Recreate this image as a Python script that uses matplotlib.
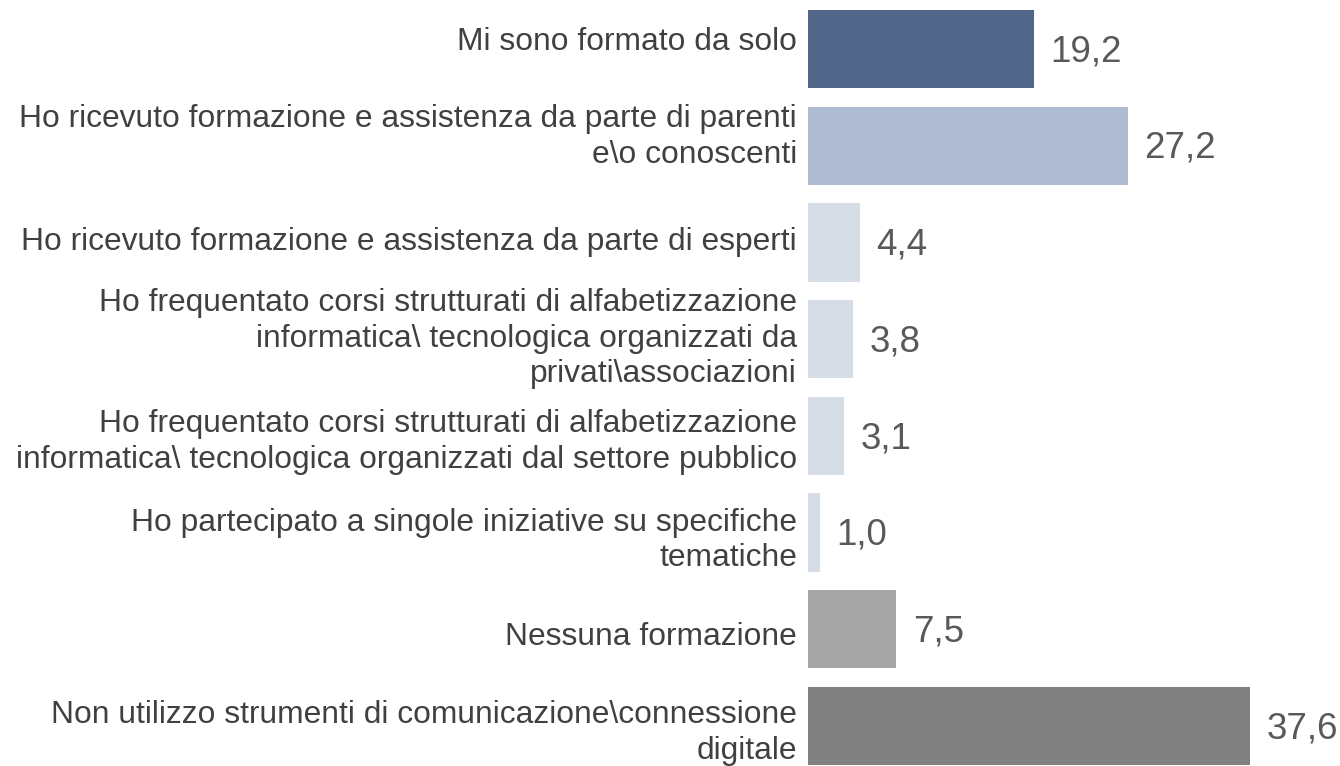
import matplotlib
matplotlib.use("Agg")
import matplotlib.pyplot as plt

categories = [
    "Mi sono formato da solo",
    "Ho ricevuto formazione e assistenza da parte di parenti\ne\\o conoscenti",
    "Ho ricevuto formazione e assistenza da parte di esperti",
    "Ho frequentato corsi strutturati di alfabetizzazione\ninformatica\\ tecnologica organizzati da\nprivati\\associazioni",
    "Ho frequentato corsi strutturati di alfabetizzazione\ninformatica\\ tecnologica organizzati dal settore pubblico",
    "Ho partecipato a singole iniziative su specifiche\ntematiche",
    "Nessuna formazione",
    "Non utilizzo strumenti di comunicazione\\connessione\ndigitale",
]
values = [19.2, 27.2, 4.4, 3.8, 3.1, 1.0, 7.5, 37.6]
value_labels = ["19,2", "27,2", "4,4", "3,8", "3,1", "1,0", "7,5", "37,6"]
colors = ["#526689", "#aebbd1", "#d6dde7", "#d6dde7", "#d6dde7", "#d6dde7", "#a6a6a6", "#808080"]
# vertical nudge of each category label (pixels, positive = downwards)
label_nudge_px = [-7, -9, 0, -0.5, 6, 8, 8, 7]

plt.rcParams['font.family'] = ['Liberation Sans', 'DejaVu Sans']

fig = plt.figure(figsize=(13.4, 7.66), dpi=100)
ax = fig.add_axes([808 / 1340, 0, 1 - 808 / 1340, 1])
pos = list(range(len(categories)))
ax.barh(pos, values, height=0.81, color=colors)
ax.set_ylim(7.415, -0.507)
ax.set_xlim(0, 532 / 11.76)
ax.set_xticks([])
ax.set_yticks([])
for s in ax.spines.values():
    s.set_visible(False)

for p, lab, dy in zip(pos, categories, label_nudge_px):
    ax.annotate(lab, (0, p), xycoords=('axes fraction', 'data'),
                xytext=(-8, -dy * 0.72), textcoords="offset points",
                ha="right", va="center", multialignment="right",
                fontsize=22.9, color="#404040", linespacing=1.25,
                annotation_clip=False)

for p, v, t in zip(pos, values, value_labels):
    ax.annotate(t, (v, p), xytext=(12, -2), textcoords="offset points",
                va="center", ha="left", fontsize=26.5, color="#595959",
                annotation_clip=False)

fig.savefig("out.png", dpi=100)
